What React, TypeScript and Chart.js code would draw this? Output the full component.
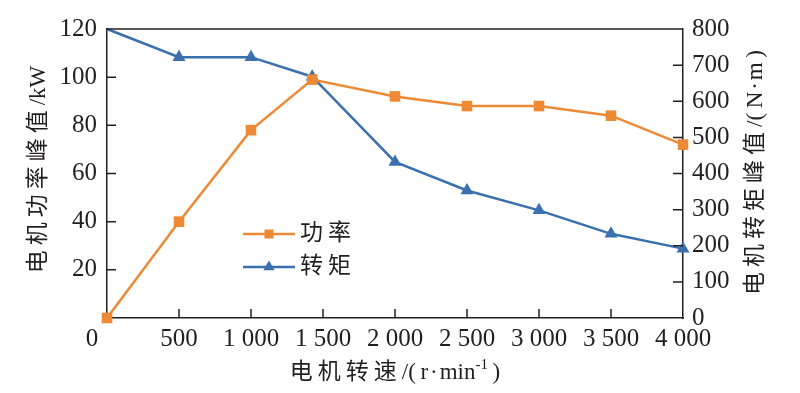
import React, { useEffect, useRef } from 'react';
import { Chart, registerables } from 'chart.js';

Chart.register(...registerables);

// ---- data ----
const rpm = [0, 500, 1000, 1425, 2000, 2500, 3000, 3500, 4000];
const powerKW = [0, 40, 78, 99, 92, 88, 88, 84, 72];
const torqueNm = [800, 722, 722, 668, 432, 353, 298, 233, 192];
const seriesNames = ['功率', '转矩'];
const xTitleMain = '电机转速/(\u2009r\u200a·\u200amin';
const xTitleSup = '-1';
const xTitleEnd = '\u2009)';
const leftTitle = '电机功率峰值/kW';
const rightTitle = '电机转矩峰值/(\u2009N\u200a·\u200am\u2009)';

const INK = '#231F20';
const ORANGE = '#EE8A35';
const BLUE = '#3A70AE';
const NUM_FONT = '"Liberation Serif", "Times New Roman", serif';
const TXT_FONT = '"Liberation Serif", "Noto Sans CJK SC", serif';
const TXT_SIZE = 23;
const CJK_SPACING = 5;

const fmt = (v: number) =>
  v >= 1000 ? `${Math.floor(v / 1000)} ${String(v % 1000).padStart(3, '0')}` : String(v);

const isCJK = (ch: string) => /[\u3000-\u9fff\uff00-\uffef]/.test(ch);

function splitRuns(text: string) {
  const runs: { t: string; cjk: boolean }[] = [];
  for (const ch of text) {
    const c = isCJK(ch);
    if (runs.length && runs[runs.length - 1].cjk === c) runs[runs.length - 1].t += ch;
    else runs.push({ t: ch, cjk: c });
  }
  return runs;
}

function measureRuns(ctx: any, text: string) {
  let w = 0;
  const runs = splitRuns(text);
  runs.forEach((r, i) => {
    ctx.letterSpacing = r.cjk ? `${CJK_SPACING}px` : '0px';
    w += ctx.measureText(r.t).width;
    if (r.cjk && i === runs.length - 1) w -= CJK_SPACING;
  });
  ctx.letterSpacing = '0px';
  return w;
}

function drawRuns(ctx: any, text: string, x: number, y: number) {
  let cx = x;
  for (const r of splitRuns(text)) {
    ctx.letterSpacing = r.cjk ? `${CJK_SPACING}px` : '0px';
    ctx.fillText(r.t, cx, y);
    cx += ctx.measureText(r.t).width;
  }
  ctx.letterSpacing = '0px';
  return cx;
}

const decoPlugin = {
  id: 'deco',
  afterDraw(chart: any) {
    const { ctx, chartArea } = chart;
    const { left, right, top, bottom } = chartArea;
    const xs = chart.scales.x;
    const yl = chart.scales.y;
    const yr = chart.scales.y1;
    ctx.save();
    ctx.strokeStyle = INK;
    ctx.lineWidth = 1.5;
    ctx.beginPath();
    ctx.moveTo(left, top);
    ctx.lineTo(right, top);
    // inward ticks
    xs.ticks.forEach((t: any) => {
      if (t.value <= xs.min || t.value >= xs.max) return;
      const px = xs.getPixelForValue(t.value);
      ctx.moveTo(px, bottom);
      ctx.lineTo(px, bottom - 9);
    });
    yl.ticks.forEach((t: any) => {
      if (t.value <= yl.min || t.value >= yl.max) return;
      const py = yl.getPixelForValue(t.value);
      ctx.moveTo(left, py);
      ctx.lineTo(left + 9, py);
    });
    yr.ticks.forEach((t: any) => {
      if (t.value <= yr.min || t.value >= yr.max) return;
      const py = yr.getPixelForValue(t.value);
      ctx.moveTo(right, py);
      ctx.lineTo(right - 10, py);
    });
    ctx.stroke();

    ctx.fillStyle = INK;
    // x "0" label, set off to the left of the corner
    ctx.font = `25px ${NUM_FONT}`;
    ctx.textAlign = 'center';
    ctx.textBaseline = 'middle';
    ctx.fillText(fmt(rpm[0]), xs.getPixelForValue(rpm[0]) - 15, bottom + 6 + 15);

    // axis titles
    ctx.textAlign = 'left';
    ctx.font = `${TXT_SIZE}px ${TXT_FONT}`;
    const wMain = measureRuns(ctx, xTitleMain);
    ctx.font = `15px ${NUM_FONT}`;
    const wSup = ctx.measureText(xTitleSup).width;
    ctx.font = `${TXT_SIZE}px ${TXT_FONT}`;
    const wEnd = measureRuns(ctx, xTitleEnd);
    const total = wMain + wSup + wEnd;
    const cx = (left + right) / 2;
    const ty = 373;
    const x0 = cx - total / 2;
    drawRuns(ctx, xTitleMain, x0, ty);
    ctx.font = `15px ${NUM_FONT}`;
    ctx.fillText(xTitleSup, x0 + wMain, ty - 8);
    ctx.font = `${TXT_SIZE}px ${TXT_FONT}`;
    drawRuns(ctx, xTitleEnd, x0 + wMain + wSup, ty);

    // left title
    const wl = measureRuns(ctx, leftTitle);
    ctx.save();
    ctx.translate(39, (top + bottom) / 2 - 4);
    ctx.rotate(-Math.PI / 2);
    drawRuns(ctx, leftTitle, -wl / 2, 0);
    ctx.restore();
    // right title (reads bottom to top)
    const wr = measureRuns(ctx, rightTitle);
    ctx.save();
    ctx.translate(756, (top + bottom) / 2 - 1);
    ctx.rotate(-Math.PI / 2);
    drawRuns(ctx, rightTitle, -wr / 2, 0);
    ctx.restore();

    // legend
    const lx0 = left + 136;
    const lx1 = left + 188;
    const mx = (lx0 + lx1) / 2;
    const rows = [top + 205, top + 238];
    const colors = [ORANGE, BLUE];
    rows.forEach((ry, i) => {
      ctx.strokeStyle = colors[i];
      ctx.fillStyle = colors[i];
      ctx.lineWidth = 2.5;
      ctx.beginPath();
      ctx.moveTo(lx0, ry);
      ctx.lineTo(lx1, ry);
      ctx.stroke();
      ctx.beginPath();
      if (i === 0) {
        ctx.rect(mx - 4.5, ry - 4.5, 9, 9);
      } else {
        const r = 6.5;
        ctx.moveTo(mx, ry - r);
        ctx.lineTo(mx + r * 0.866, ry + r * 0.5);
        ctx.lineTo(mx - r * 0.866, ry + r * 0.5);
        ctx.closePath();
      }
      ctx.fill();
      ctx.fillStyle = INK;
      ctx.font = `${TXT_SIZE}px ${TXT_FONT}`;
      ctx.textAlign = 'left';
      ctx.textBaseline = 'middle';
      drawRuns(ctx, seriesNames[i], lx1 + 5, ry);
    });
    ctx.restore();
  },
};

export default function App() {
  const ref = useRef<HTMLCanvasElement | null>(null);
  useEffect(() => {
    document.body.style.margin = '0';
    if (!ref.current) return;
    const tickFont = { family: NUM_FONT, size: 25 };
    const chart = new Chart(ref.current, {
      type: 'line',
      data: {
        datasets: [
          {
            label: seriesNames[0],
            data: rpm.map((x, i) => ({ x, y: powerKW[i] })),
            yAxisID: 'y',
            borderColor: ORANGE,
            backgroundColor: ORANGE,
            borderWidth: 2.5,
            pointStyle: 'rect',
            pointRadius: 7.5,
            pointBorderWidth: 0,
            tension: 0,
            clip: false as any,
          },
          {
            label: seriesNames[1],
            data: rpm.map((x, i) => ({ x, y: torqueNm[i] })),
            yAxisID: 'y1',
            borderColor: BLUE,
            backgroundColor: BLUE,
            borderWidth: 2.5,
            pointStyle: 'triangle',
            pointRadius: (c: any) => (c.dataIndex === 0 ? 0 : 7.5),
            pointBorderWidth: 0,
            tension: 0,
            clip: false as any,
          },
        ],
      },
      options: {
        animation: false,
        responsive: true,
        maintainAspectRatio: false,
        layout: { padding: { top: 29, left: 0, right: 0, bottom: 0 } },
        plugins: { legend: { display: false }, tooltip: { enabled: false } },
        scales: {
          x: {
            type: 'linear',
            min: 0,
            max: 4000,
            grid: { display: false, drawTicks: false },
            border: { display: true, color: INK, width: 1.5 },
            ticks: {
              stepSize: 500,
              padding: 6,
              color: INK,
              font: tickFont,
              maxRotation: 0,
              callback: (v: any) => (v === 0 ? '' : fmt(Number(v))),
            },
            afterFit: (s: any) => {
              s.height = 75;
            },
          },
          y: {
            type: 'linear',
            position: 'left',
            min: 0,
            max: 120,
            grid: { display: false, drawTicks: false },
            border: { display: true, color: INK, width: 1.5 },
            ticks: {
              stepSize: 20,
              padding: 10,
              color: INK,
              font: tickFont,
              callback: (v: any) => (v === 0 ? '' : String(v)),
            },
            afterFit: (s: any) => {
              s.width = 107;
            },
          },
          y1: {
            type: 'linear',
            position: 'right',
            min: 0,
            max: 800,
            grid: { display: false, drawTicks: false },
            border: { display: true, color: INK, width: 1.5 },
            ticks: {
              stepSize: 100,
              padding: 9,
              color: INK,
              font: tickFont,
              callback: (v: any) => String(v),
            },
            afterFit: (s: any) => {
              s.width = 117;
            },
          },
        },
      },
      plugins: [decoPlugin],
    } as any);
    return () => chart.destroy();
  }, []);
  return (
    <div style={{ position: 'relative', width: 800, height: 393 }}>
      <canvas ref={ref} />
    </div>
  );
}
